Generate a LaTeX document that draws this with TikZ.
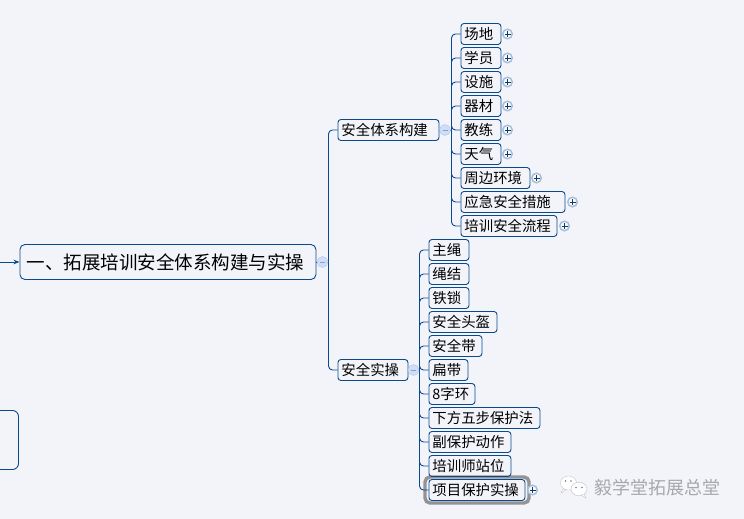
\documentclass[tikz,border=0pt]{standalone}
\usepackage{fontspec}
\usetikzlibrary{arrows.meta}
\setmainfont{Noto Sans CJK SC}
\definecolor{bgc}{HTML}{F2F4FA}
\definecolor{linec}{HTML}{0B4A8A}
\definecolor{minusc}{HTML}{CFDDF7}
\definecolor{plusc}{HTML}{A9BDD6}
\tikzset{
  px/.style={x=1pt,y=-1pt},
  box/.style={draw=linec,line width=0.9pt,rounded corners=3pt,anchor=west,inner xsep=0pt,inner ysep=0pt,
     minimum height=21pt,text width=#1pt-1pt,font=\fontsize{14.4}{14.4}\selectfont,align=left,text=black},
  link/.style={draw=linec,line width=0.9pt,rounded corners=4pt},
  minusnode/.style={circle,fill=minusc,draw=minusc!85!linec,line width=0.4pt,minimum size=11pt,inner sep=0pt},
  plusnode/.style={circle,fill=white!60!bgc,draw=plusc,line width=1.5pt,minimum size=9.5pt,inner sep=0pt},
  sign/.style={draw=linec!80!black,line width=0.8pt},
}
\newcommand{\tx}[1]{\hspace*{3.5pt}\raisebox{-0.7pt}{#1}}
\newcommand{\plusat}[3]{\node[plusnode] (#1) at (#2,#3) {};
  \draw[sign] (#2-3,#3) -- (#2+3,#3) (#2,#3-3) -- (#2,#3+3);}
\newcommand{\minusat}[3]{\node[minusnode] (#1) at (#2,#3) {};
  \draw[draw=minusc!60!linec,line width=0.7pt] (#2-2.5,#3) -- (#2+2.5,#3);}
\begin{document}
\begin{tikzpicture}[px]
\useasboundingbox (0,0) rectangle (744,519);
\fill[bgc] (0,0) rectangle (744,519);
% selected outline
\draw[draw=gray!85!white,line width=3.4pt,rounded corners=5pt] (425,477) rectangle (529,503);
% main and left
\coordinate (in) at (0,262);
\node[box=297,minimum height=35pt,rounded corners=5pt,font=\fontsize{18.5}{18.5}\selectfont] (main) at (19.5,262) {\hspace*{7pt}\raisebox{-0.7pt}{一、拓展培训安全体系构建与实操}};
\draw[draw=linec,line width=0.9pt,rounded corners=6pt] (-10,410.5) -- (18.5,410.5) -- (18.5,469.5) -- (-10,469.5);
\draw[draw=linec,line width=0.8pt,-{Stealth[length=6pt,width=4.5pt]}] (in) -- (main.west);
% level 2
\node[box=102] (a) at (337.5,130) {\tx{安全体系构建}};
\node[box=71] (b) at (337.5,370) {\tx{安全实操}};
% level 3 upper
\node[box=41] (a1) at (460.5,34) {\tx{场地}};
\node[box=41] (a2) at (460.5,58) {\tx{学员}};
\node[box=41] (a3) at (460.5,82) {\tx{设施}};
\node[box=41] (a4) at (460.5,106) {\tx{器材}};
\node[box=41] (a5) at (460.5,130) {\tx{教练}};
\node[box=41] (a6) at (460.5,154) {\tx{天气}};
\node[box=70] (a7) at (460.5,178) {\tx{周边环境}};
\node[box=105] (a8) at (460.5,202) {\tx{应急安全措施}};
\node[box=97] (a9) at (460.5,226) {\tx{培训安全流程}};
% level 3 lower
\node[box=41] (b1) at (428.5,250) {\tx{主绳}};
\node[box=41] (b2) at (428.5,274) {\tx{绳结}};
\node[box=41] (b3) at (428.5,298) {\tx{铁锁}};
\node[box=69] (b4) at (428.5,322) {\tx{安全头盔}};
\node[box=54] (b5) at (428.5,346) {\tx{安全带}};
\node[box=40] (b6) at (428.5,370) {\tx{扁带}};
\node[box=47] (b7) at (428.5,394) {\tx{8字环}};
\node[box=112] (b8) at (428.5,418) {\tx{下方五步保护法}};
\node[box=83] (b9) at (428.5,442) {\tx{副保护动作}};
\node[box=83] (b10) at (428.5,466) {\tx{培训师站位}};
\node[box=97] (b11) at (428.5,490) {\tx{项目保护实操}};
% trunks
\coordinate (t0) at (328.5,262);
\coordinate (t1) at (451.5,130);
\coordinate (t2) at (419.5,370);
\foreach \n in {a,b} \draw[link] (t0) |- (\n.west);
\foreach \n in {a1,a2,a3,a4,a5,a6,a7,a8,a9} \draw[link] (t1) |- (\n.west);
\foreach \n in {b1,b2,b3,b4,b5,b6,b7,b8,b9,b10,b11} \draw[link] (t2) |- (\n.west);
\draw[link] (main.east) -- (t0);
\draw[link] (a.east) -- (t1);
\draw[link] (b.east) -- (t2);
% collapse marks
\minusat{m0}{322.5}{262}
\minusat{m1}{445}{130}
\minusat{m2}{413.5}{370}
\plusat{p1}{507.5}{34}
\plusat{p2}{507.5}{58}
\plusat{p3}{507.5}{82}
\plusat{p4}{507.5}{106}
\plusat{p5}{507.5}{130}
\plusat{p6}{507.5}{154}
\plusat{p7}{536.5}{178}
\plusat{p8}{572.5}{202}
\plusat{p9}{564.5}{226}
\plusat{p10}{532.5}{490}
% watermark
\fill[white,draw=gray!50,line width=0.3pt] (568.5,483) ellipse (8 and 7);
\fill[white,draw=gray!50,line width=0.3pt] (563,489) -- (561,493) -- (566,490) -- cycle;
\fill[white,draw=gray!60,line width=0.3pt] (579,489) ellipse (8 and 6.8);
\fill[white,draw=gray!50,line width=0.3pt] (584,494) -- (586,498) -- (581,495) -- cycle;
\fill[gray] (565.5,481) circle (0.8) (571,481) circle (0.8) (576,487.5) circle (0.8) (582,487.5) circle (0.8);
\node[font=\fontsize{18}{18}\selectfont,text=gray!65!bgc,anchor=center,inner sep=0pt] (wm) at (657.5,487.5) {毅学堂拓展总堂};
\end{tikzpicture}
\end{document}
